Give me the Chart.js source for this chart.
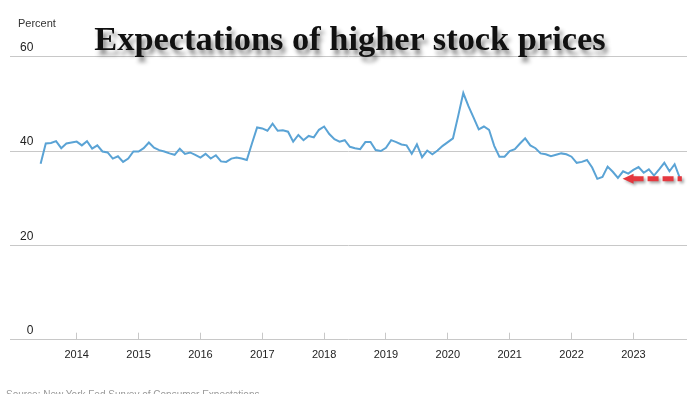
<!DOCTYPE html>
<html>
<head>
<meta charset="utf-8">
<script src="https://cdn.jsdelivr.net/npm/chart.js@4.4.0/dist/chart.umd.min.js"></script>
<style>
  html, body { margin: 0; padding: 0; background: #fff; }
  #wrap { position: relative; width: 700px; height: 394px; overflow: hidden; }
  #resultChart { position: absolute; left: 0; top: 0; }
  .unit { position: absolute; left: 18px; top: 17px; font: 11px "Liberation Sans", Arial, sans-serif; color: #333; }
  .headline { position: absolute; left: 0; top: 19px; width: 700px; text-align: center;
    font: bold 34.4px "Liberation Serif", "Times New Roman", serif; color: #111;
    text-shadow: 3px 5px 4px rgba(0, 0, 0, 0.45); }
  .source { position: absolute; left: 6px; top: 389px; font: 10px "Liberation Sans", Arial, sans-serif; color: #999; }
</style>
</head>
<body>
<div id="wrap">
  <canvas id="resultChart" width="700" height="394"></canvas>
  <div class="unit">Percent</div>
  <div class="headline">Expectations of higher stock prices</div>
  <div class="source">Source: New York Fed Survey of Consumer Expectations</div>
</div>
<script>
// monthly readings, June 2013 to October 2023
const firstMonth = -7; // months counted from January 2014
const stockValues = [
  37.3, 41.6, 41.7, 42.1, 40.6, 41.6, 41.8,
  42.0, 41.2, 42.1, 40.5, 41.2, 39.9, 39.7, 38.4, 38.9, 37.7, 38.4, 39.9,
  39.9, 40.6, 41.8, 40.7, 40.2, 39.9, 39.5, 39.2, 40.5, 39.4, 39.7, 39.2,
  38.6, 39.4, 38.4, 39.1, 37.8, 37.7, 38.4, 38.6, 38.4, 38.1, 41.6, 45.0,
  44.8, 44.3, 45.8, 44.3, 44.4, 44.1, 42.0, 43.4, 42.3, 43.2, 42.9, 44.5,
  45.2, 43.6, 42.5, 42.0, 42.3, 40.9, 40.6, 40.4, 41.9, 41.9, 40.2, 40.0,
  40.7, 42.3, 41.9, 41.4, 41.2, 39.4, 41.4, 38.7, 40.1, 39.3, 40.1, 41.1,
  41.9, 42.7, 47.4, 52.3, 49.5, 47.1, 44.6, 45.2, 44.5, 41.1, 38.8, 38.8,
  40.0, 40.4, 41.6, 42.7, 41.2, 40.6, 39.5, 39.3, 38.9, 39.2, 39.5, 39.3,
  38.8, 37.5, 37.7, 38.1, 36.5, 34.1, 34.5, 36.7, 35.6, 34.3, 35.7, 35.2,
  36.0, 36.6, 35.4, 36.1, 34.8, 36.1, 37.5, 35.7, 37.2, 34.3
];
const tickMonths = [0, 12, 24, 36, 48, 60, 72, 84, 96, 108];
const tickLabels = ['2014', '2015', '2016', '2017', '2018', '2019', '2020', '2021', '2022', '2023'];
const yTicks = [0, 20, 40, 60];
// red dashed arrow, in months and percent
const arrowMonths = [105.9, 117.4];
const arrowLevel = 34.1;

const points = stockValues.map((v, i) => ({ x: firstMonth + i, y: v }));

const arrowPlugin = {
  id: 'arrow',
  afterDatasetsDraw(chart) {
    const { ctx, scales } = chart;
    const tip = scales.x.getPixelForValue(arrowMonths[0]);
    const tail = scales.x.getPixelForValue(arrowMonths[1]);
    const y = scales.y.getPixelForValue(arrowLevel);
    ctx.save();
    ctx.shadowColor = 'rgba(0,0,0,0.35)';
    ctx.shadowBlur = 3;
    ctx.shadowOffsetX = 2;
    ctx.shadowOffsetY = 2;
    ctx.fillStyle = '#e5383f';
    ctx.strokeStyle = '#e5383f';
    ctx.beginPath();
    ctx.moveTo(tip, y);
    ctx.lineTo(tip + 11, y - 5);
    ctx.lineTo(tip + 11, y + 5);
    ctx.closePath();
    ctx.fill();
    ctx.lineWidth = 5;
    ctx.setLineDash([11, 4]);
    ctx.beginPath();
    ctx.moveTo(tip + 10, y);
    ctx.lineTo(tail, y);
    ctx.stroke();
    ctx.restore();
  }
};

new Chart(document.getElementById('resultChart').getContext('2d'), {
  type: 'line',
  data: {
    datasets: [{
      data: points,
      borderColor: '#5aa3d5',
      borderWidth: 2,
      pointRadius: 0,
      tension: 0
    }]
  },
  options: {
    responsive: false,
    animation: false,
    layout: { padding: { left: 10, right: 13, top: 56.7, bottom: 16.1 } },
    plugins: { legend: { display: false }, tooltip: { enabled: false } },
    scales: {
      x: {
        type: 'linear',
        min: -12.94,
        max: 118.4,
        afterBuildTicks: s => { s.ticks = tickMonths.map(v => ({ value: v })); },
        ticks: {
          callback: v => tickLabels[tickMonths.indexOf(v)],
          font: { family: 'Liberation Sans', size: 11 },
          color: '#222',
          padding: 16,
          maxRotation: 0,
          autoSkip: false
        },
        grid: { drawOnChartArea: false, tickLength: -7, color: '#c8c8c8' },
        border: { display: false }
      },
      y: {
        min: 0,
        max: 60,
        afterBuildTicks: s => { s.ticks = yTicks.map(v => ({ value: v })); },
        afterFit: s => { s.width = 0; },
        ticks: {
          mirror: true,
          padding: 10,
          labelOffset: -9,
          font: { family: 'Liberation Sans', size: 12 },
          color: '#222',
          callback: v => String(v).padStart(2, '\u2007')
        },
        grid: { drawTicks: false, color: '#c8c8c8' },
        border: { display: false }
      }
    }
  },
  plugins: [arrowPlugin]
});
</script>
</body>
</html>
